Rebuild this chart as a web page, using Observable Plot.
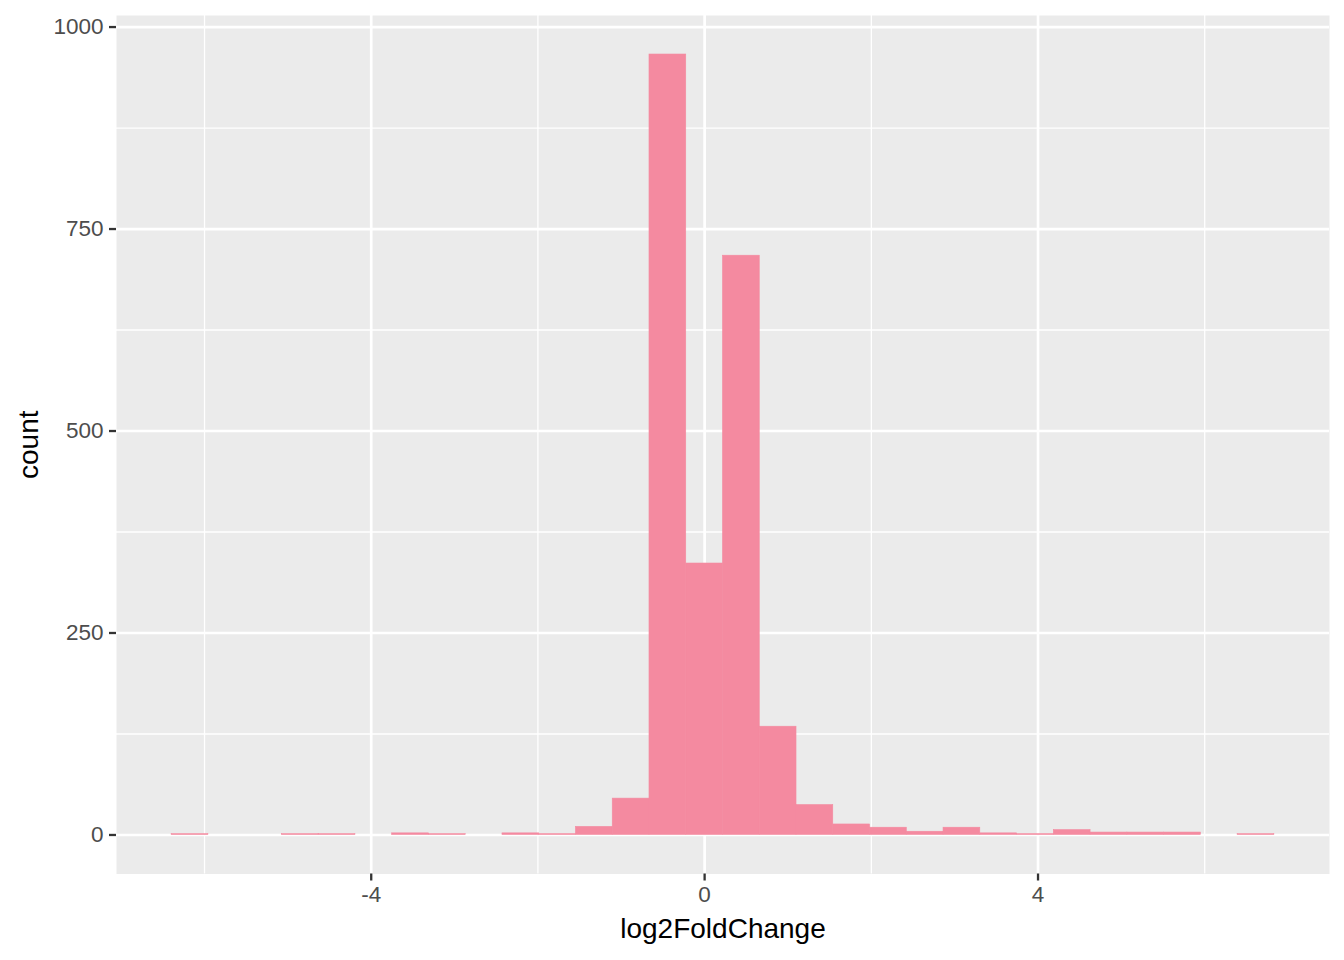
<!DOCTYPE html>
<html>
<head>
<meta charset="utf-8">
<script src="https://cdn.jsdelivr.net/npm/d3@7"></script>
<script src="https://cdn.jsdelivr.net/npm/@observablehq/plot@0.6"></script>
<style>
  html, body { margin: 0; padding: 0; background: #ffffff; }
  #chart svg { display: block; }
  #chart g[aria-label="x-axis tick label"] text,
  #chart g[aria-label="y-axis tick label"] text { fill: #4D4D4D; }
  #chart g[aria-label="x-axis label"] text,
  #chart g[aria-label="y-axis label"] text { fill: #000000; }
</style>
</head>
<body>
<div id="chart"></div>
<script>
// Bin centres (log2FoldChange) and histogram counts
const binWidth = 0.441;
const binMids = [-6.174, -5.733, -5.292, -4.851, -4.410, -3.969, -3.528, -3.087, -2.646, -2.205,
                 -1.764, -1.323, -0.882, -0.441, 0.000, 0.441, 0.882, 1.323, 1.764, 2.205,
                 2.646, 3.087, 3.528, 3.969, 4.410, 4.851, 5.292, 5.733, 6.174, 6.615];
const counts = [1, 0, 0, 1, 1, 0, 2, 1, 0, 2,
                1, 10, 45, 966, 336, 717, 134, 37, 13, 9,
                4, 9, 2, 1, 6, 3, 3, 3, 0, 1];
const xMajor = [-4, 0, 4];
const xMinor = [-6, -2, 2, 6];
const yMajor = [0, 250, 500, 750, 1000];
const yMinor = [125, 375, 625, 875];
const xTitle = "log2FoldChange";
const yTitle = "count";

const bins = binMids.map((m, i) => ({mid: m, count: counts[i]})).filter(d => d.count > 0);

// ggplot-like 5% expansion of the data range
const xLo = d3.min(binMids) - binWidth / 2, xHi = d3.max(binMids) + binWidth / 2;
const xPad = (xHi - xLo) * 0.05;
const yHi = d3.max(counts), yPad = yHi * 0.05;

const chart = Plot.plot({
  width: 1344,
  height: 960,
  marginLeft: 116,
  marginRight: 15,
  marginTop: 15,
  marginBottom: 86.5,
  style: {fontFamily: "'Liberation Sans', Arial, sans-serif", background: "#ffffff"},
  x: {domain: [xLo - xPad, xHi + xPad]},
  y: {domain: [-yPad, yHi + yPad]},
  marks: [
    Plot.frame({fill: "#EBEBEB", stroke: null}),
    Plot.ruleX(xMinor, {stroke: "#ffffff", strokeWidth: 1.3}),
    Plot.ruleY(yMinor, {stroke: "#ffffff", strokeWidth: 1.3}),
    Plot.ruleX(xMajor, {stroke: "#ffffff", strokeWidth: 2.7}),
    Plot.ruleY(yMajor, {stroke: "#ffffff", strokeWidth: 2.7}),
    Plot.rectY(bins, {
      x1: d => d.mid - binWidth / 2,
      x2: d => d.mid + binWidth / 2,
      y: "count",
      fill: "#F48AA0",
      stroke: "#F48AA0",
      strokeWidth: 0.6
    }),
    Plot.axisX({
      ticks: xMajor, tickFormat: d => String(d),
      tickSize: 7, tickPadding: 5, stroke: "#333333", strokeWidth: 2.3,
      fontSize: 22.5,
      label: xTitle, labelAnchor: "center", labelArrow: "none", labelOffset: 64
    }),
    Plot.axisY({
      ticks: yMajor, tickFormat: d => String(d),
      tickSize: 7, tickPadding: 6, stroke: "#333333", strokeWidth: 2.3,
      fontSize: 22.5,
      label: yTitle, labelAnchor: "center", labelArrow: "none", labelOffset: 98
    })
  ]
});
// make axis titles larger than tick labels
chart.querySelectorAll('g[aria-label="x-axis label"], g[aria-label="y-axis label"]').forEach(g => {
  g.setAttribute("font-size", "28");
  g.querySelectorAll("text").forEach(t => t.setAttribute("font-size", "28"));
});
document.getElementById("chart").appendChild(chart);
</script>
</body>
</html>
